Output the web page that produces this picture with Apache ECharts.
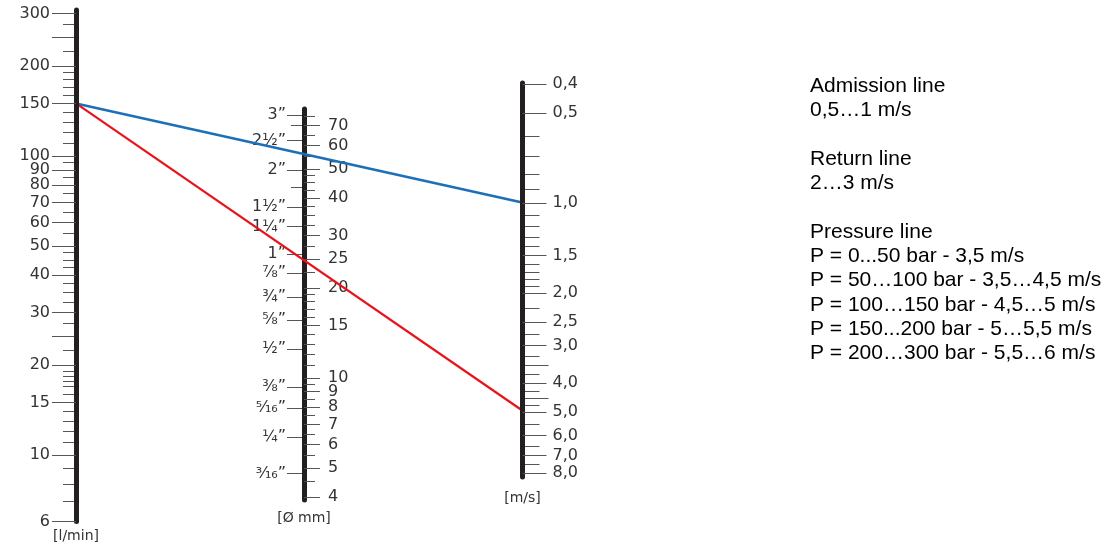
<!DOCTYPE html>
<html>
<head>
<meta charset="utf-8">
<script src="https://cdn.jsdelivr.net/npm/echarts@6/dist/echarts.min.js"></script>
<style>
html,body{margin:0;padding:0;background:#fff;}
#chart{width:1113px;height:545px;}
</style>
</head>
<body>
<div id="chart"></div>
<script>
// ---- Flow rate scale [l/min] ----
const flowLabels = [6, 10, 15, 20, 30, 40, 50, 60, 70, 80, 90, 100, 150, 200, 300];
const flowLongTicks = [25, 250];
const flowMinorTicks = [7, 8, 9, 11, 12, 13, 14, 16, 17, 17.6, 18.3, 19, 22.5, 27.5, 32.5, 35, 37.5,
  42.5, 45, 47.5, 55, 65, 75, 85, 95, 110, 120, 130, 140, 160, 170, 180, 190, 225, 275];
const flowRange = [6, 308];

// ---- Pipe diameter scale [Ø mm] ----
const mmLabels = [4, 5, 6, 7, 8, 9, 10, 15, 20, 25, 30, 40, 50, 60, 70];
const mmMinorTicks = [4.5, 5.5, 6.5, 7.5, 8.5, 9.5, 11, 12, 13, 14, 16, 17, 18, 19, 22.5, 27.5,
  32.5, 35, 37.5, 42.5, 45, 47.5, 55, 65, 75];
const inchLabels = ['³⁄₁₆”', '¼”', '⁵⁄₁₆”', '⅜”', '½”', '⅝”', '¾”', '⅞”', '1”', '1¼”', '1½”', '2”', '2½”', '3”'];
const inchMm = [4.8, 6.36, 7.92, 9.35, 12.5, 15.6, 18.7, 22.4, 26.0, 32.1, 37.4, 49.6, 62.2, 75.8];
const inchMinorMm = [43.4, 70.2];
const mmRange = [3.91, 79.4];

// ---- Velocity scale [m/s] ----
const speedLabels = [0.4, 0.5, 1, 1.5, 2, 2.5, 3, 4, 5, 6, 7, 8];
const speedLongTicks = [3.5, 4.5];
const speedMinorTicks = [0.6, 0.7, 0.8, 0.9, 1.1, 1.2, 1.3, 1.4, 1.6, 1.7, 1.8, 1.9, 2.25, 2.75,
  3.25, 3.75, 4.25, 4.75, 5.5, 6.5, 7.5];
const speedRange = [0.397, 8.25];

// ---- Example lines: [flow l/min, velocity m/s] ----
const admissionLine = [150, 1.0];
const pressureLine = [150, 5.0];

// ---- Legend text ----
const noteLines = [
  'Admission line', '0,5…1 m/s', '',
  'Return line', '2…3 m/s', '',
  'Pressure line',
  'P = 0...50 bar - 3,5 m/s',
  'P = 50…100 bar - 3,5…4,5 m/s',
  'P = 100…150 bar - 4,5…5 m/s',
  'P = 150...200 bar - 5…5,5 m/s',
  'P = 200…300 bar - 5,5…6 m/s'
];

const FONT = 'DejaVu Sans';
const LABEL_COLOR = '#333';
const TICK_COLOR = '#555';
const BAR = {lineStyle: {color: '#231f20', width: 5}};

function subAxis(grid, pos, range, inverse, ticks, len) {
  return {
    type: 'log', gridIndex: grid, position: pos, min: range[0], max: range[1], inverse: inverse,
    axisLine: {show: false},
    axisTick: {show: true, customValues: ticks, length: len, lineStyle: {color: TICK_COLOR, width: 1}},
    axisLabel: {show: false},
    splitLine: {show: false}, minorTick: {show: false}
  };
}

const labelStyle = {fontFamily: FONT, fontSize: 16, color: LABEL_COLOR, hideOverlap: false};
const nameStyle = {fontFamily: FONT, fontSize: 14, color: '#333'};

const chart = echarts.init(document.getElementById('chart'), null, {renderer: 'canvas'});

const option = {
  animation: false,
  backgroundColor: '#fff',
  grid: [
    {left: 76, top: 10, width: 2, height: 511.4, containLabel: false, outerBoundsMode: 'none'},
    {left: 302, top: 109, width: 2, height: 391, containLabel: false, outerBoundsMode: 'none'},
    {left: 522.5, top: 83, width: 2, height: 394, containLabel: false, outerBoundsMode: 'none'}
  ],
  xAxis: [0, 1, 2].map(g => ({type: 'value', gridIndex: g, min: 0, max: 1, show: false})),
  yAxis: [
    // 0 flow main
    {
      type: 'log', gridIndex: 0, position: 'left', min: flowRange[0], max: flowRange[1], z: 10,
      axisLine: Object.assign({show: true}, BAR),
      axisTick: {show: true, customValues: flowLabels, length: 24, lineStyle: {color: TICK_COLOR, width: 1}},
      axisLabel: Object.assign({customValues: flowLabels, margin: 26, formatter: v => String(Math.round(v))}, labelStyle),
      splitLine: {show: false},
      name: '[l/min]', nameLocation: 'start', nameGap: 8, nameTextStyle: nameStyle
    },
    subAxis(0, 'left', flowRange, false, flowLongTicks, 24),
    subAxis(0, 'left', flowRange, false, flowMinorTicks, 13),
    // 3 inch main
    {
      type: 'log', gridIndex: 1, position: 'left', min: mmRange[0], max: mmRange[1],
      axisLine: {show: false},
      axisTick: {show: true, customValues: inchMm, length: 15, lineStyle: {color: TICK_COLOR, width: 1}},
      axisLabel: Object.assign({
        customValues: inchMm, margin: 16,
        formatter: v => {
          let best = 0;
          inchMm.forEach((m, i) => { if (Math.abs(m - v) < Math.abs(inchMm[best] - v)) best = i; });
          return inchLabels[best];
        }
      }, labelStyle),
      splitLine: {show: false}
    },
    subAxis(1, 'left', mmRange, false, inchMinorMm, 11),
    // 5 mm main
    {
      type: 'log', gridIndex: 1, position: 'right', min: mmRange[0], max: mmRange[1],
      axisLine: Object.assign({show: true}, BAR),
      axisTick: {show: true, customValues: mmLabels, length: 16, lineStyle: {color: TICK_COLOR, width: 1}},
      axisLabel: Object.assign({customValues: mmLabels, margin: 24, formatter: v => String(Math.round(v))}, labelStyle),
      splitLine: {show: false},
      name: '[Ø mm]', nameLocation: 'start', nameGap: 11, nameTextStyle: nameStyle
    },
    subAxis(1, 'right', mmRange, false, mmMinorTicks, 11),
    // 7 speed main
    {
      type: 'log', gridIndex: 2, position: 'right', min: speedRange[0], max: speedRange[1], inverse: true, z: 10,
      axisLine: Object.assign({show: true}, BAR),
      axisTick: {show: true, customValues: speedLabels, length: 24, lineStyle: {color: TICK_COLOR, width: 1}},
      axisLabel: Object.assign({customValues: speedLabels, margin: 28,
        formatter: v => v.toFixed(1).replace('.', ',')}, labelStyle),
      splitLine: {show: false},
      name: '[m/s]', nameLocation: 'end', nameGap: 14, nameTextStyle: nameStyle
    },
    subAxis(2, 'right', speedRange, true, speedLongTicks, 24),
    subAxis(2, 'right', speedRange, true, speedMinorTicks, 15)
  ],
  graphic: [
    {
      id: 'notes', type: 'text', left: 810, top: 74, z: 5,
      style: {text: noteLines.join('\n'), font: '21px "Liberation Sans", Arial, sans-serif',
        fill: '#000', lineHeight: 24.3}
    }
  ],
  series: []
};

chart.setOption(option);

// draw the nomogram lines through the axes' own scales
function linePoint(flowVal, speedVal) {
  const x1 = chart.convertToPixel({xAxisIndex: 0}, 0);
  const y1 = chart.convertToPixel({yAxisIndex: 0}, flowVal);
  const x2 = chart.convertToPixel({xAxisIndex: 2}, 1);
  const y2 = chart.convertToPixel({yAxisIndex: 7}, speedVal);
  return {x1, y1, x2, y2};
}
chart.setOption({
  graphic: [
    {id: 'admission', type: 'line', z: 5, shape: linePoint(admissionLine[0], admissionLine[1]),
      style: {stroke: '#1b70b8', lineWidth: 2.5}},
    {id: 'pressure', type: 'line', z: 5, shape: linePoint(pressureLine[0], pressureLine[1]),
      style: {stroke: '#e8141c', lineWidth: 2.2}}
  ]
});
</script>
</body>
</html>
